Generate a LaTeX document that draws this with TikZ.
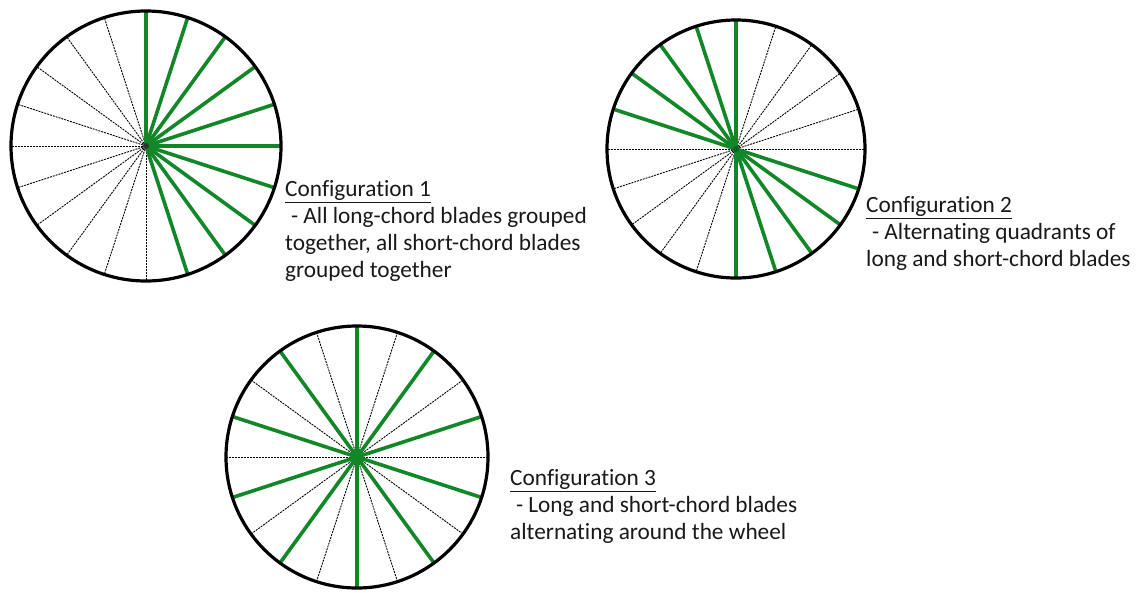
\documentclass[tikz,border=0pt]{standalone}
\usepackage{fontspec}
\setmainfont{Carlito}[Ligatures=NoCommon]
\usepackage{tikz}
\usetikzlibrary{positioning}

\definecolor{bladegreen}{RGB}{18,135,40}

\tikzset{
  rim/.style={draw=black, line width=3.2pt},
  shortblade/.style={draw=black, line width=0.9pt, dash pattern=on 2pt off 1pt},
  longblade/.style={draw=bladegreen, line width=3.6pt},
  cfgtext/.style={align=left, inner sep=0pt, anchor=base west,
    font=\fontsize{23.3}{26.7}\selectfont, text=black!90}
}

\begin{document}
\begin{tikzpicture}[x=1pt,y=-1pt]
  \useasboundingbox (0,0) rectangle (1137,592);

  \coordinate (c_1) at (146,146);
  \coordinate (c_2) at (736,149);
  \coordinate (c_3) at (357,457);

  % configuration 1
  \foreach \a in {108,126,144,162,180,198,216,234,252,270}
    \draw[shortblade] (c_1) -- ++(\a:135pt);
  \foreach \a in {90,72,54,36,18,0,-18,-36,-54,-72}
    \draw[longblade] (c_1) -- ++(\a:135pt);
  \fill[black!80] (c_1) circle[radius=3];
  \draw[rim] (c_1) circle[radius=135];

  % configuration 2
  \foreach \a in {0,18,36,54,72,180,198,216,234,252}
    \draw[shortblade] (c_2) -- ++(\a:129pt);
  \foreach \a in {90,108,126,144,162,270,288,306,324,342}
    \draw[longblade] (c_2) -- ++(\a:129pt);
  \fill[bladegreen!70!black] (c_2) circle[radius=3];
  \draw[rim] (c_2) circle[radius=129];

  % configuration 3
  \foreach \a in {0,36,72,108,144,180,216,252,288,324}
    \draw[shortblade] (c_3) -- ++(\a:131pt);
  \foreach \a in {18,54,90,126,162,198,234,270,306,342}
    \draw[longblade] (c_3) -- ++(\a:131pt);
  \fill[bladegreen] (c_3) circle[radius=5];
  \draw[rim] (c_3) circle[radius=131];

  % texts (anchored at the baseline of the last line)
  \node[cfgtext] (cfg_1) at (285,277)
    {\underline{Configuration 1}\\
     \hspace{0.25em}- All long-chord blades grouped\\
     together, all short-chord blades\\
     grouped together};
  \node[cfgtext] (cfg_2) at (866,266)
    {\underline{Configuration 2}\\
     \hspace{0.25em}- Alternating quadrants of\\
     long and short-chord blades};
  \node[cfgtext] (cfg_3) at (510,539)
    {\underline{Configuration 3}\\
     \hspace{0.25em}- Long and short-chord blades\\
     alternating around the wheel};
\end{tikzpicture}
\end{document}
